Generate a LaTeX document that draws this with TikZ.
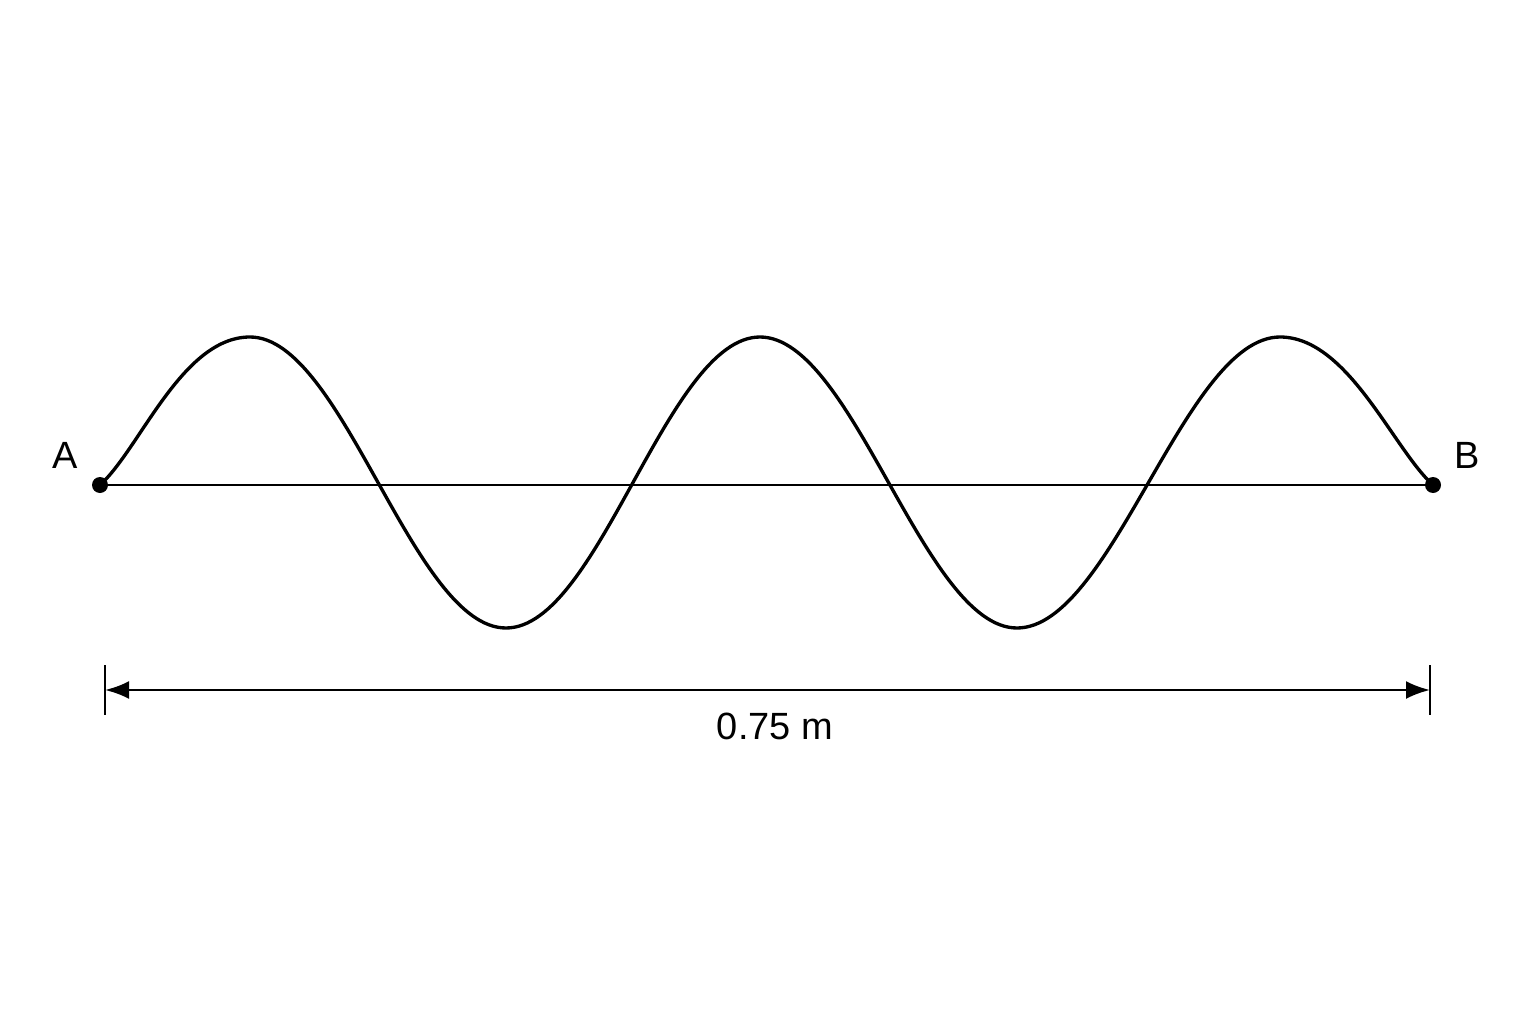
\documentclass[tikz,border=0pt]{standalone}
\usepackage{fontspec}
\setmainfont{Liberation Sans}
\usepackage{tikz}
\usetikzlibrary{arrows.meta, positioning}

\begin{document}
\begin{tikzpicture}[>={Latex[length=0.24cm, width=0.18cm]}, on grid,
    dot/.style={circle, fill=black, inner sep=0pt, minimum size=0.16cm},
    lbl/.style={font=\fontsize{10.8}{13}\selectfont, inner sep=0pt},
    wave/.style={line width=0.95pt, line join=round},
    dimline/.style={line width=0.75pt}]

        \useasboundingbox (0,0) rectangle (15.36,10.24);

        % Nodes
        \node (ptA) [dot] at (1.00,5.39) {};
        \node (ptB) [dot] at (14.33,5.39) {};
        \node (labA) [lbl, above left=0.30cm and 0.35cm of ptA] {A};
        \node (labB) [lbl, above right=0.30cm and 0.34cm of ptB] {B};

        % Wave
        \coordinate (p1) at (2.50,6.87);
        \coordinate (t1) at (5.06,3.96);
        \coordinate (p2) at (7.60,6.87);
        \coordinate (t2) at (10.17,3.96);
        \coordinate (p3) at (12.80,6.87);
        \draw[line width=0.55pt] (ptA.center) -- (ptB.center);
        \draw[wave] (ptA.center) .. controls +(0.40,0.36) and +(-0.68,0) .. (p1)
            .. controls +(0.93,0) and +(-0.93,0) .. (t1)
            .. controls +(0.93,0) and +(-0.93,0) .. (p2)
            .. controls +(0.93,0) and +(-0.93,0) .. (t2)
            .. controls +(0.95,0) and +(-0.95,0) .. (p3)
            .. controls +(0.68,0) and +(-0.40,0.36) .. (ptB.center);

        % Dimension
        \coordinate (dimL) at (1.05,3.34);
        \coordinate (dimR) at (14.30,3.34);
        \coordinate (dimM) at (7.75,3.34);
        \draw[dimline] ([yshift=0.25cm]dimL) -- ([yshift=-0.25cm]dimL);
        \draw[dimline] ([yshift=0.25cm]dimR) -- ([yshift=-0.25cm]dimR);
        \draw[dimline, <->] (dimL) -- (dimR);
        \node (len) [lbl, below=0.22cm of dimM] {0.75 m};

      \end{tikzpicture}
\end{document}
